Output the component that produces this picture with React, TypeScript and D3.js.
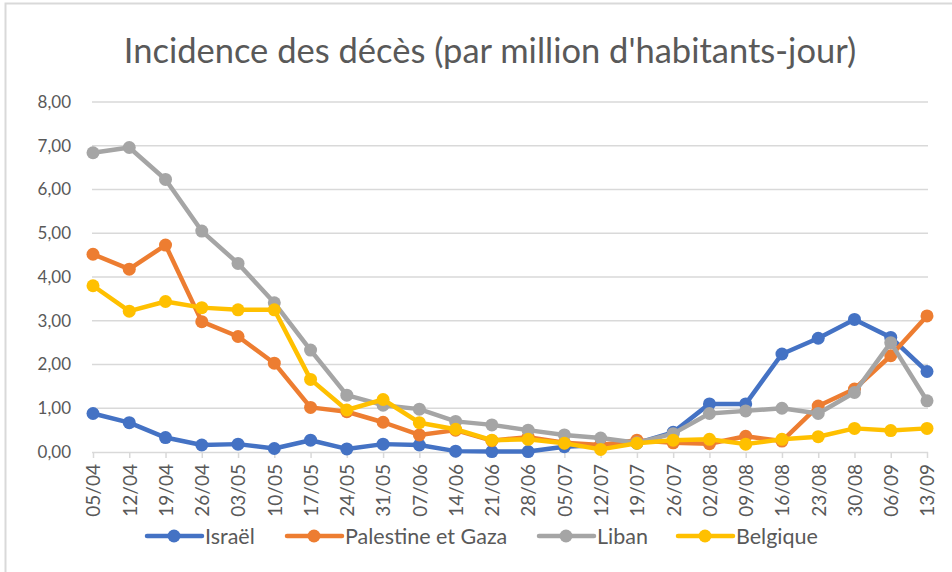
import { useEffect, useRef } from "react";
import * as d3 from "d3";

// Weekly dates (dd/mm)
const DATES = [
	"05/04", "12/04", "19/04", "26/04", "03/05", "10/05", "17/05", "24/05",
	"31/05", "07/06", "14/06", "21/06", "28/06", "05/07", "12/07", "19/07",
	"26/07", "02/08", "09/08", "16/08", "23/08", "30/08", "06/09", "13/09",
];

const ISRAEL = [0.88, 0.67, 0.33, 0.16, 0.18, 0.08, 0.27, 0.07, 0.18, 0.16, 0.02, 0.01, 0.01, 0.12, 0.16, 0.20, 0.45, 1.10, 1.10, 2.24, 2.60, 3.03, 2.62, 1.84];
const PALESTINE = [4.52, 4.18, 4.73, 2.98, 2.64, 2.03, 1.02, 0.92, 0.68, 0.39, 0.50, 0.26, 0.34, 0.21, 0.16, 0.27, 0.21, 0.19, 0.36, 0.25, 1.05, 1.44, 2.20, 3.11];
const LIBAN = [6.84, 6.96, 6.23, 5.05, 4.31, 3.41, 2.33, 1.30, 1.07, 0.98, 0.70, 0.62, 0.50, 0.39, 0.32, 0.21, 0.42, 0.88, 0.94, 1.00, 0.88, 1.36, 2.50, 1.17];
const BELGIQUE = [3.80, 3.22, 3.44, 3.30, 3.25, 3.25, 1.66, 0.96, 1.20, 0.67, 0.52, 0.27, 0.29, 0.20, 0.06, 0.20, 0.27, 0.29, 0.18, 0.29, 0.35, 0.54, 0.49, 0.54];

const SERIES = [
	{ name: "Israël", values: ISRAEL, color: "#4472C4" },
	{ name: "Palestine et Gaza", values: PALESTINE, color: "#ED7D31" },
	{ name: "Liban", values: LIBAN, color: "#A5A5A5" },
	{ name: "Belgique", values: BELGIQUE, color: "#FFC000" },
];

const Y_TICKS = [0, 1, 2, 3, 4, 5, 6, 7, 8];

const TITLE = "Incidence des décès (par million d'habitants-jour)";

const FONT = "Lato, 'Open Sans', sans-serif";
const TEXT_COLOR = "#595959";

export default function App() {
	const ref = useRef<SVGSVGElement>(null);

	useEffect(() => {
		const svg = d3.select(ref.current);
		svg.selectAll("*").remove();

		const W = 952, H = 572;
		const plot = { left: 92, right: 928, top: 102, bottom: 452 };

		// frame
		svg.append("rect")
			.attr("x", 5.5).attr("y", 3.5)
			.attr("width", W + 10).attr("height", H + 10)
			.attr("fill", "#fff")
			.attr("stroke", "#d9d9d9")
			.attr("stroke-width", 2);

		// title
		svg.append("text")
			.attr("x", 490)
			.attr("y", 63)
			.attr("text-anchor", "middle")
			.attr("font-family", FONT)
			.attr("font-size", "34.5px")
			.attr("fill", TEXT_COLOR)
			.text(TITLE);

		const x = d3.scalePoint<string>()
			.domain(DATES)
			.range([93, 927]);

		const y = d3.scaleLinear()
			.domain([0, 8])
			.range([plot.bottom, plot.top]);

		const fr = d3.formatLocale({ decimal: ",", thousands: " ", grouping: [3], currency: ["", " €"] });
		const fmt = fr.format(".2f");

		// gridlines
		svg.append("g")
			.selectAll("line")
			.data(Y_TICKS.slice(1))
			.enter()
			.append("line")
			.attr("x1", plot.left).attr("x2", plot.right)
			.attr("y1", d => y(d)).attr("y2", d => y(d))
			.attr("stroke", "#d9d9d9")
			.attr("stroke-width", 1.5);

		// y axis labels
		const yAxis = svg.append("g")
			.attr("transform", `translate(${plot.left},0)`)
			.call(d3.axisLeft(y).tickValues(Y_TICKS).tickFormat(d => fmt(d as number)).tickSize(0).tickPadding(21));
		yAxis.select(".domain").remove();
		yAxis.selectAll("text")
			.attr("font-family", FONT)
			.attr("font-size", "17px")
			.attr("fill", TEXT_COLOR);

		// x axis
		const xAxis = svg.append("g")
			.attr("transform", `translate(0,${plot.bottom})`)
			.call(d3.axisBottom(x).tickSize(6).tickSizeOuter(0));
		xAxis.select(".domain")
			.attr("d", `M${plot.left},0.5H${plot.right}`)
			.attr("stroke", "#d9d9d9")
			.attr("stroke-width", 1.5);
		xAxis.selectAll(".tick line")
			.attr("stroke", "#d9d9d9")
			.attr("stroke-width", 1.5);
		xAxis.selectAll("text")
			.attr("font-family", FONT)
			.attr("font-size", "19px")
			.attr("fill", TEXT_COLOR)
			.attr("transform", "rotate(-90)")
			.attr("text-anchor", "end")
			.attr("x", -12)
			.attr("y", 0)
			.attr("dy", "0.36em");

		// lines and markers
		const line = d3.line<number>()
			.x((_, i) => x(DATES[i])!)
			.y(d => y(d));

		SERIES.forEach(s => {
			const g = svg.append("g");
			g.append("path")
				.attr("d", line(s.values))
				.attr("fill", "none")
				.attr("stroke", s.color)
				.attr("stroke-width", 4.5)
				.attr("stroke-linejoin", "round")
				.attr("stroke-linecap", "round");
			g.selectAll("circle")
				.data(s.values)
				.enter()
				.append("circle")
				.attr("cx", (_, i) => x(DATES[i])!)
				.attr("cy", d => y(d))
				.attr("r", 6.5)
				.attr("fill", s.color);
		});

		// legend
		const legendX = [147, 287, 539, 678];
		const legendY = 536;
		SERIES.forEach((s, i) => {
			const row = svg.append("g")
				.attr("transform", `translate(${legendX[i]},${legendY})`);
			row.append("line")
				.attr("x1", 0).attr("x2", 55)
				.attr("stroke", s.color)
				.attr("stroke-width", 4.5)
				.attr("stroke-linecap", "round");
			row.append("circle")
				.attr("cx", 27).attr("r", 6.5)
				.attr("fill", s.color);
			row.append("text")
				.attr("x", 58)
				.attr("dy", "0.35em")
				.attr("font-family", FONT)
				.attr("font-size", "21.5px")
				.attr("fill", TEXT_COLOR)
				.text(s.name);
		});
	}, []);

	return (
		<svg
			ref={ref}
			width={952}
			height={572}
			style={{ position: "absolute", left: 0, top: 0, background: "#fff" }}
		/>
	);
}
